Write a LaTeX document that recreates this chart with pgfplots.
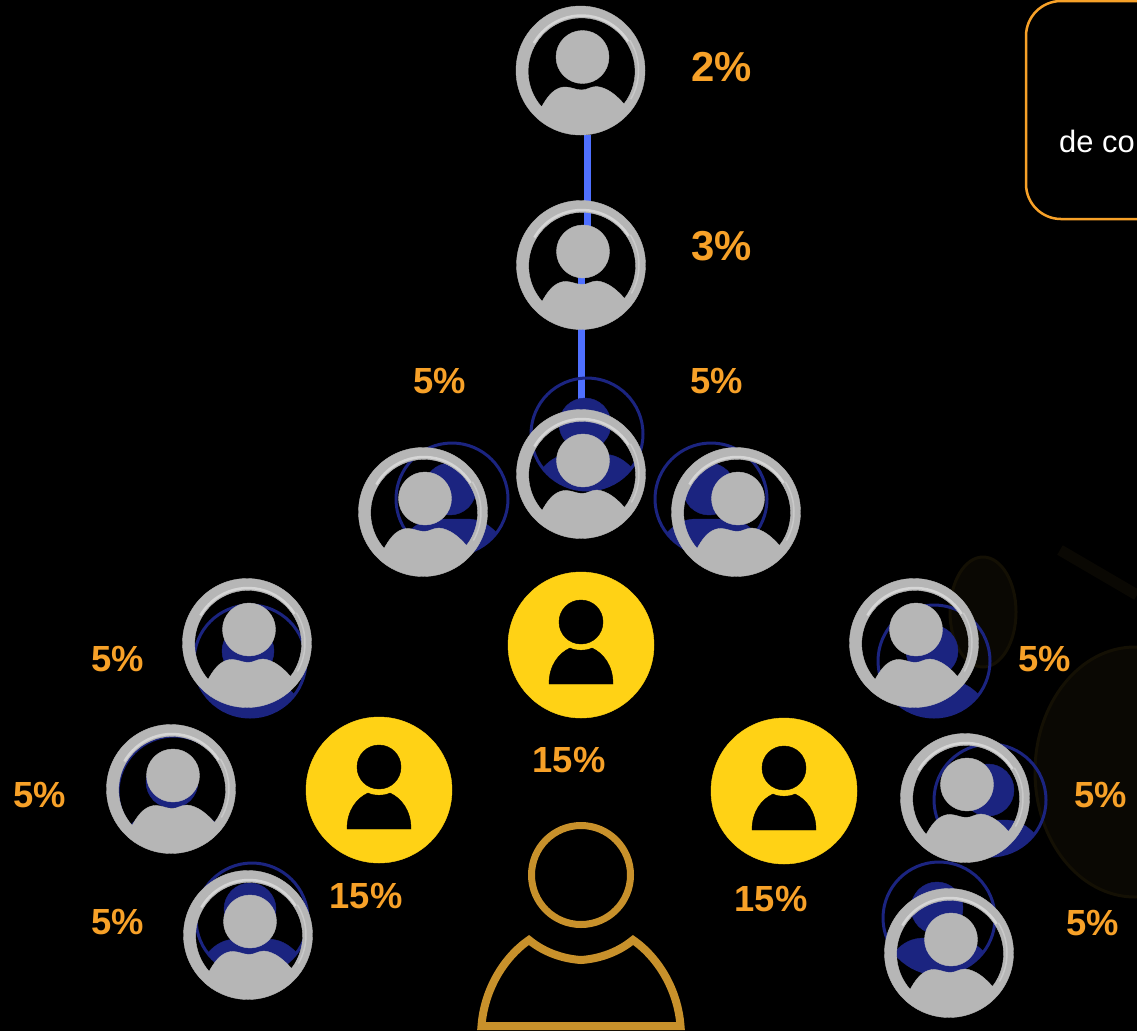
\documentclass[border=0pt]{standalone}
\usepackage{fontspec}
\setmainfont{Liberation Sans}
\usepackage{pgfplots}
\pgfplotsset{compat=1.18}

\definecolor{silver}{HTML}{B6B6B6}
\definecolor{silverhi}{HTML}{D6D6D6}
\definecolor{navy}{HTML}{1B2480}
\definecolor{linkblue}{HTML}{4F70FF}
\definecolor{gold}{HTML}{FFD215}
\definecolor{amber}{HTML}{F7A128}
\definecolor{bronze}{HTML}{C8912B}
\definecolor{coinfill}{HTML}{0A0803}
\definecolor{coinedge}{HTML}{141004}

% silver user icon, the window is left open so the navy one shows through
\pgfdeclareplotmark{silveruser}{%
  \begin{scope}[x=1bp,y=1bp]
    \fill[silver,even odd rule] (0,0) circle (64.5)
      (43.5,-33.5) arc[start angle=-37.6,end angle=221.6,radius=53.5]
      .. controls (-34,-28) and (-28,-18) .. (-17,-16.5)
      .. controls (-10,-16) and (-5,-19.5) .. (1,-19.5)
      .. controls (7,-19.5) and (10,-16) .. (16,-16)
      .. controls (27,-17) and (36,-25) .. (43.5,-33.5) -- cycle;
    \draw[silverhi,line width=2.5bp] (1,0) ++(32:55) arc[start angle=32,end angle=150,radius=55];
    \draw[silverhi,line width=1.5bp,opacity=.6] (1,0) ++(-30:57) arc[start angle=-30,end angle=32,radius=57];
    \fill[silver] (2,13.5) circle (26.5);
  \end{scope}}
% navy copy behind it
\pgfdeclareplotmark{navyuser}{%
  \begin{scope}[x=1bp,y=1bp]
    \draw[navy,line width=3bp] (0,0) circle (56);
    \fill[navy] (-2,10) circle (26);
    \fill[navy] (45,-34) arc[start angle=-37,end angle=-143,radius=56]
      .. controls (-36,-25) and (-28,-20) .. (-14,-20)
      -- (14,-20)
      .. controls (28,-20) and (36,-25) .. (45,-34) -- cycle;
  \end{scope}}
\pgfdeclareplotmark{golduser}{%
  \begin{scope}[x=1bp,y=1bp]
    \fill[gold] (0,0) circle (73);
    \fill[black] (0,23) circle (22);
    \fill[black] (-32,-39) -- (32,-39)
      .. controls (32,-20) and (22,-8) .. (11,-3)
      .. controls (5,-6) and (-5,-6) .. (-11,-3)
      .. controls (-22,-8) and (-32,-20) .. (-32,-39) -- cycle;
  \end{scope}}
\pgfdeclareplotmark{bigoutline}{%
  \begin{scope}[x=1bp,y=1bp]
    \draw[bronze,line width=7bp] (0,51) circle (49.5);
    \draw[bronze,line width=8bp,line join=miter] (-99.5,-100) -- (99.5,-100)
      .. controls (97,-65) and (78,-32) .. (52,-14)
      .. controls (35,-28) and (15,-33) .. (0,-34)
      .. controls (-15,-33) and (-35,-28) .. (-52,-14)
      .. controls (-78,-32) and (-97,-65) .. (-99.5,-100) -- cycle;
  \end{scope}}
% faint coins in the background
\pgfdeclareplotmark{coinbig}{%
  \begin{scope}[x=1bp,y=1bp]
    \filldraw[fill=coinfill,draw=coinedge,line width=3bp,rotate=-25] (0,0) ellipse (100 and 125);
  \end{scope}}
\pgfdeclareplotmark{coinsmall}{%
  \begin{scope}[x=1bp,y=1bp]
    \filldraw[fill=coinfill,draw=coinedge,line width=3bp,rotate=-20] (0,0) ellipse (33 and 55);
  \end{scope}}
\pgfdeclareplotmark{cointop}{%
  \begin{scope}[x=1bp,y=1bp]
    \filldraw[fill=coinfill,draw=coinedge,line width=3bp,rotate=-25] (0,0) ellipse (58 and 54);
  \end{scope}}

\pgfplotstableread{
x y v
691 67 2
691 246 3
}\bigpct
\pgfplotstableread{
x y v
440 381 5
717 381 5
118 659 5
40 795 5
118 922 5
1045 659 5
1101 795 5
1093 923 5
}\smallpct
\pgfplotstableread{
x y v
569 760 15
366 896 15
771 899 15
}\midpct

\begin{document}
\begin{tikzpicture}
\path[use as bounding box,clip] (0,0) rectangle (1137bp,1031bp);
\begin{axis}[
    at={(0,0)},
    anchor=south west,
    width=1137bp,
    height=1031bp,
    scale only axis,
    xmin=0, xmax=1137,
    ymin=0, ymax=1031,
    y dir=reverse,
    ticks=none,
    axis line style={draw=none},
    every node near coord/.style={anchor=center,inner sep=0pt,text=amber},
    pct/.style={only marks,mark=none,point meta=explicit symbolic,
      nodes near coords={\pgfplotspointmeta\%}},
]
% background
\addplot[fill=black,draw=none] coordinates {(0,0) (1137,0) (1137,1031) (0,1031)} -- cycle;
% coins
\addplot[only marks,mark=coinbig] coordinates {(1135,772)};
\addplot[only marks,mark=coinsmall] coordinates {(983,612)};
\addplot[only marks,mark=cointop] coordinates {(1146,444)};
\addplot[coinfill,line width=11bp] coordinates {(1060,550) (1137,595)};
% box at top right
\addplot[amber,line width=2.5bp,rounded corners=35bp] coordinates {(1200,1) (1026,1) (1026,219) (1200,219)};
% navy icons
\addplot[only marks,mark=navyuser] coordinates {
    (587,434) (452,499) (711,499) (250,661) (174,792)
    (252,919) (934,661) (990,800) (939,918)
};
% links
\addplot[linkblue,line width=7bp] coordinates {(587,135) (587,240)};
\addplot[linkblue,line width=7bp] coordinates {(581,272) (581,415)};
% silver icons
\addplot[only marks,mark=silveruser] coordinates {
    (580.5,70.5) (581,265) (581,474) (423,512) (736,512)
    (247,643) (171,789) (248,935) (914,643) (965,798) (949,953)
};
% gold icons
\addplot[only marks,mark=golduser] coordinates {(581,645) (379,790) (784,791)};
\addplot[only marks,mark=bigoutline] coordinates {(581,926)};
% labels
\addplot[pct,nodes near coords style={font=\fontsize{42}{42}\bfseries\selectfont,anchor=west}]
    table[x=x,y=y,meta=v] {\bigpct};
\addplot[pct,nodes near coords style={font=\fontsize{36.5}{36.5}\bfseries\selectfont}]
    table[x=x,y=y,meta=v] {\smallpct};
\addplot[pct,nodes near coords style={font=\fontsize{36.5}{36.5}\bfseries\selectfont}]
    table[x=x,y=y,meta=v] {\midpct};
\addplot[only marks,mark=none,point meta=explicit symbolic,nodes near coords,
    nodes near coords style={font=\fontsize{31}{31}\selectfont,anchor=west,text=white}]
    coordinates {(1059,141) [de co]};
\end{axis}
\end{tikzpicture}
\end{document}
